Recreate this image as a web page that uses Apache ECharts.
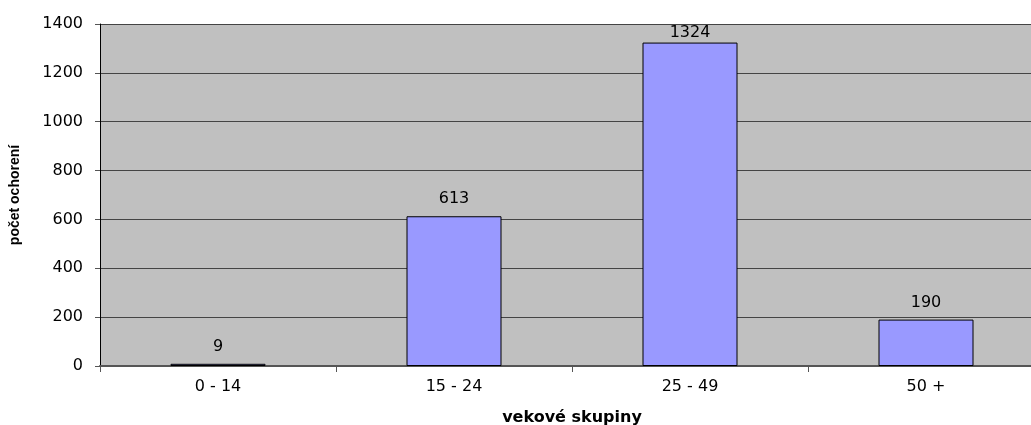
<!DOCTYPE html>
<html><head><meta charset="utf-8">
<script src="https://cdn.jsdelivr.net/npm/echarts@6/dist/echarts.min.js"></script>
<style>html,body{margin:0;padding:0;background:#fff}#c{width:1031px;height:425px}</style>
</head><body><div id="c"></div>
<script>
const categories = ['0 - 14', '15 - 24', '25 - 49', '50 +'];
const values = [9, 613, 1324, 190];
const yTicks = [0, 200, 400, 600, 800, 1000, 1200, 1400];
const chart = echarts.init(document.getElementById('c'));
const font = 'DejaVu Sans, sans-serif';
const gridH = 342;
const yMax = yTicks[yTicks.length - 1];
// keep data labels inside plot area (as the original clamps them)
const seriesData = values.map(v => {
  const topPx = gridH * (1 - v / yMax);
  const dist = Math.max(0, Math.min(9, topPx - 17));
  return { value: v, label: { distance: dist } };
});
chart.setOption({
  animation: false,
  grid: { left: 100, top: 24, width: 944, height: gridH, show: true, backgroundColor: '#C0C0C0', borderWidth: 0, outerBoundsMode: 'none', containLabel: false },
  xAxis: {
    type: 'category', data: categories,
    name: 'vekové skupiny', nameLocation: 'middle', nameGap: 44,
    nameTextStyle: { fontFamily: font, fontSize: 16, fontWeight: 'bold', color: '#000' },
    axisLine: { lineStyle: { color: '#555', width: 2 } },
    axisTick: { show: true, length: 6, lineStyle: { color: '#555' } },
    axisLabel: { fontFamily: font, fontSize: 16, color: '#000', margin: 13 }
  },
  yAxis: {
    type: 'value', min: yTicks[0], max: yMax, interval: 200,
    name: 'počet ochorení', nameLocation: 'middle', nameGap: 78,
    nameTextStyle: { fontFamily: 'Liberation Sans, Arial, sans-serif', fontSize: 14, fontWeight: 'bold', color: '#000' },
    axisLine: { show: true, lineStyle: { color: '#000', width: 1 } },
    axisTick: { show: true, length: 5, lineStyle: { color: '#555' } },
    axisLabel: { fontFamily: font, fontSize: 16, color: '#000', margin: 17, formatter: v => String(v) },
    splitLine: { show: true, lineStyle: { color: '#444', width: 1 } }
  },
  series: [{
    type: 'bar', data: seriesData, barWidth: 95,
    itemStyle: { color: '#9999FF', borderColor: '#000', borderWidth: 1 },
    label: { show: true, position: 'top', distance: 9, fontFamily: font, fontSize: 16, color: '#000' }
  }]
});
</script></body></html>
